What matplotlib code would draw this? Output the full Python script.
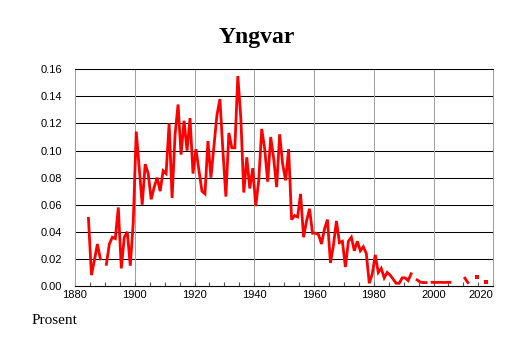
import numpy as np
import matplotlib
matplotlib.use("Agg")
import matplotlib.pyplot as plt

nan = np.nan

name = "Yngvar"

# one value per year, share of population in percent (missing years left as nan)
years = np.arange(1884, 2020)
share = [
    0.050, 0.008, 0.019, 0.031, 0.020, nan,                                  # 1884-1889
    0.016, 0.031, 0.036, 0.035, 0.058, 0.013, 0.036, 0.040, 0.015, 0.047,    # 1890s
    0.114, 0.087, 0.060, 0.090, 0.083, 0.064, 0.073, 0.080, 0.070, 0.085,    # 1900s
    0.083, 0.120, 0.065, 0.112, 0.134, 0.097, 0.122, 0.100, 0.124, 0.083,    # 1910s
    0.101, 0.085, 0.070, 0.068, 0.107, 0.080, 0.103, 0.126, 0.138, 0.100,    # 1920s
    0.066, 0.113, 0.102, 0.102, 0.155, 0.124, 0.069, 0.095, 0.072, 0.087,    # 1930s
    0.059, 0.078, 0.116, 0.101, 0.077, 0.110, 0.094, 0.073, 0.112, 0.090,    # 1940s
    0.078, 0.101, 0.049, 0.052, 0.051, 0.068, 0.036, 0.048, 0.057, 0.039,    # 1950s
    0.039, 0.038, 0.031, 0.042, 0.049, 0.017, 0.030, 0.048, 0.032, 0.033,    # 1960s
    0.014, 0.033, 0.036, 0.026, 0.033, 0.026, 0.029, 0.024, 0.002, 0.009,    # 1970s
    0.023, 0.010, 0.013, 0.006, 0.010, 0.008, 0.005, 0.002, 0.002, 0.006,    # 1980s
    0.006, 0.004, 0.009, nan, 0.0045, 0.003, 0.0025, 0.0025, nan, 0.0027,    # 1990s
    0.0026, 0.0027, 0.0027, 0.0026, 0.0027, 0.0027, nan, nan, nan, nan,      # 2000s
    0.0058, 0.0025, nan, nan, 0.0065, nan, nan, 0.0033, nan, nan,            # 2010s
]

y_ticks = [0.00, 0.02, 0.04, 0.06, 0.08, 0.10, 0.12, 0.14, 0.16]
x_ticks = [1880, 1900, 1920, 1940, 1960, 1980, 2000, 2020]

share = np.array(share)
# each year is drawn in the middle of its interval
x = years + 0.5

fig = plt.figure(figsize=(5.14, 3.43), dpi=100)
ax = fig.add_axes([0.1459, 0.1662, 0.8138, 0.6318])

ax.plot(x, share, color="#ff0000", linewidth=2.0, solid_joinstyle="miter")

# years with no neighbours would vanish from the line, draw them as small dots
prev = np.concatenate([[nan], share[:-1]])
nxt = np.concatenate([share[1:], [nan]])
alone = ~np.isnan(share) & np.isnan(prev) & np.isnan(nxt)
ax.plot(x[alone], share[alone], linestyle="none", marker="s",
        markersize=2.2, color="#ff0000", markeredgewidth=0)

ax.set_xlim(1880, 2020)
ax.set_ylim(0, 0.16)

for v in y_ticks[1:]:
    ax.axhline(v, color="black", linewidth=0.75, zorder=0)
for yr in x_ticks[1:-1]:
    ax.axvline(yr, color="#a0a0a0", linewidth=0.75, zorder=0)

ax.spines["top"].set_color("black")
ax.spines["top"].set_linewidth(0.75)
ax.spines["bottom"].set_color("black")
ax.spines["bottom"].set_linewidth(0.8)
ax.spines["left"].set_color("#a0a0a0")
ax.spines["left"].set_linewidth(0.75)
ax.spines["right"].set_color("#a0a0a0")
ax.spines["right"].set_linewidth(0.75)

ax.set_yticks(y_ticks)
ax.set_yticklabels([f"{v:.2f}" for v in y_ticks], fontfamily="Liberation Sans", fontsize=8)
ax.tick_params(axis="y", length=0, pad=9)

ax.set_xticks(x_ticks)
ax.set_xticks(np.arange(1880, 2021, 5), minor=True)
ax.set_xticklabels([str(t) for t in x_ticks], fontfamily="Liberation Sans", fontsize=8)
ax.tick_params(axis="x", which="both", direction="in", length=3, width=0.8,
               color="#555555", pad=3)
ax.get_xticklabels()[-1].set_ha("right")

fig.text(0.5, 0.892, name, ha="center", va="center", fontfamily="Liberation Serif",
         fontweight="bold", fontsize=17)
fig.text(0.062, 0.067, "Prosent", ha="left", va="center", fontfamily="Liberation Serif",
         fontsize=11)

fig.savefig("out.png", dpi=100)
